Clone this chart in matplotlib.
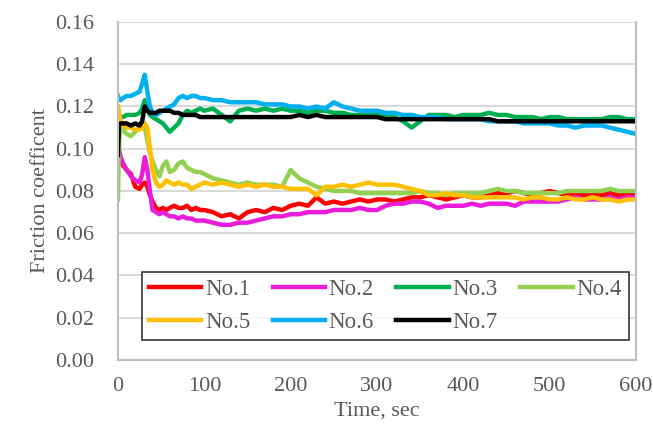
import matplotlib.pyplot as plt

# time axis (sec)
time = [0, 1, 3, 6, 10, 15, 20, 25, 28, 31, 34, 37, 40, 44, 48, 52, 56, 60, 65, 70,
        75, 80, 85, 90, 95, 100,
        110, 120, 130, 140, 150, 160, 170, 180, 190, 200,
        210, 220, 230, 240, 250, 260, 270, 280, 290, 300,
        310, 320, 330, 340, 350, 360, 370, 380, 390, 400,
        410, 420, 430, 440, 450, 460, 470, 480, 490, 500,
        510, 520, 530, 540, 550, 560, 570, 580, 590, 600]

no1 = [0.100, 0.097, 0.094, 0.092, 0.090, 0.088, 0.082, 0.081, 0.083, 0.084, 0.082, 0.078, 0.075,
       0.072, 0.071, 0.072, 0.071, 0.072, 0.073, 0.072, 0.072, 0.073, 0.071, 0.072, 0.071, 0.071,
       0.070, 0.068, 0.069, 0.067, 0.070, 0.071, 0.070, 0.072, 0.071, 0.073,
       0.074, 0.073, 0.077, 0.074, 0.075, 0.074, 0.075, 0.076, 0.075, 0.076,
       0.076, 0.075, 0.076, 0.077, 0.077, 0.078, 0.077, 0.076, 0.077, 0.078,
       0.077, 0.077, 0.078, 0.079, 0.079, 0.080, 0.079, 0.078, 0.079, 0.080,
       0.079, 0.078, 0.079, 0.078, 0.079, 0.078, 0.079, 0.078, 0.079, 0.078]

no2 = [0.104, 0.100, 0.096, 0.093, 0.090, 0.087, 0.085, 0.084, 0.088, 0.096, 0.090, 0.080, 0.071,
       0.070, 0.069, 0.070, 0.069, 0.068, 0.068, 0.067, 0.068, 0.067, 0.067, 0.066, 0.066, 0.066,
       0.065, 0.064, 0.064, 0.065, 0.065, 0.066, 0.067, 0.068, 0.068, 0.069,
       0.069, 0.070, 0.070, 0.070, 0.071, 0.071, 0.071, 0.072, 0.071, 0.071,
       0.073, 0.074, 0.074, 0.075, 0.075, 0.074, 0.072, 0.073, 0.073, 0.073,
       0.074, 0.073, 0.074, 0.074, 0.074, 0.073, 0.075, 0.075, 0.075, 0.075,
       0.075, 0.076, 0.077, 0.076, 0.076, 0.076, 0.077, 0.076, 0.077, 0.077]

no3 = [0.113, 0.114, 0.115, 0.115, 0.116, 0.116, 0.116, 0.117, 0.119, 0.123, 0.119, 0.116, 0.115,
       0.114, 0.113, 0.112, 0.110, 0.108, 0.110, 0.112, 0.116, 0.118, 0.117, 0.118, 0.119, 0.118,
       0.119, 0.116, 0.113, 0.118, 0.119, 0.118, 0.119, 0.118, 0.119, 0.118,
       0.118, 0.117, 0.118, 0.118, 0.117, 0.117, 0.116, 0.116, 0.116, 0.116,
       0.116, 0.115, 0.113, 0.110, 0.113, 0.116, 0.116, 0.116, 0.115, 0.116,
       0.116, 0.116, 0.117, 0.116, 0.116, 0.115, 0.115, 0.115, 0.114, 0.115,
       0.115, 0.114, 0.114, 0.114, 0.114, 0.114, 0.115, 0.115, 0.114, 0.114]

no4 = [0.076, 0.100, 0.112, 0.109, 0.107, 0.106, 0.108, 0.110, 0.112, 0.110, 0.104, 0.098, 0.094,
       0.090, 0.087, 0.092, 0.094, 0.089, 0.090, 0.093, 0.094, 0.091, 0.090, 0.089, 0.089, 0.088,
       0.086, 0.085, 0.084, 0.083, 0.084, 0.083, 0.083, 0.083, 0.082, 0.090,
       0.086, 0.084, 0.082, 0.081, 0.080, 0.080, 0.080, 0.079, 0.079, 0.079,
       0.079, 0.079, 0.079, 0.079, 0.080, 0.079, 0.079, 0.078, 0.079, 0.079,
       0.079, 0.079, 0.080, 0.081, 0.080, 0.080, 0.079, 0.079, 0.079, 0.079,
       0.079, 0.080, 0.080, 0.080, 0.080, 0.080, 0.081, 0.080, 0.080, 0.080]

no5 = [0.120, 0.118, 0.113, 0.111, 0.110, 0.110, 0.109, 0.109, 0.110, 0.112, 0.110, 0.100, 0.090,
       0.084, 0.082, 0.083, 0.085, 0.084, 0.083, 0.084, 0.083, 0.083, 0.081, 0.082, 0.083, 0.084,
       0.083, 0.084, 0.083, 0.082, 0.083, 0.082, 0.083, 0.082, 0.082, 0.081,
       0.081, 0.081, 0.078, 0.082, 0.082, 0.083, 0.082, 0.083, 0.084, 0.083,
       0.083, 0.083, 0.082, 0.081, 0.080, 0.078, 0.078, 0.079, 0.078, 0.078,
       0.077, 0.077, 0.077, 0.077, 0.077, 0.077, 0.076, 0.077, 0.077, 0.076,
       0.076, 0.077, 0.076, 0.076, 0.077, 0.076, 0.076, 0.075, 0.076, 0.076]

no6 = [0.125, 0.124, 0.123, 0.124, 0.125, 0.125, 0.126, 0.127, 0.131, 0.135, 0.127, 0.120, 0.117,
       0.116, 0.117, 0.118, 0.119, 0.120, 0.121, 0.124, 0.125, 0.124, 0.125, 0.125, 0.124, 0.124,
       0.123, 0.123, 0.122, 0.122, 0.122, 0.122, 0.121, 0.121, 0.121, 0.120,
       0.120, 0.119, 0.120, 0.119, 0.122, 0.120, 0.119, 0.118, 0.118, 0.118,
       0.117, 0.117, 0.116, 0.116, 0.115, 0.115, 0.115, 0.114, 0.114, 0.114,
       0.114, 0.114, 0.113, 0.113, 0.113, 0.113, 0.112, 0.112, 0.112, 0.112,
       0.111, 0.111, 0.110, 0.111, 0.111, 0.111, 0.110, 0.109, 0.108, 0.107]

no7 = [0.097, 0.111, 0.112, 0.112, 0.112, 0.111, 0.112, 0.111, 0.113, 0.120, 0.118, 0.117, 0.117,
       0.117, 0.118, 0.118, 0.118, 0.118, 0.117, 0.117, 0.116, 0.116, 0.116, 0.116, 0.115, 0.115,
       0.115, 0.115, 0.115, 0.115, 0.115, 0.115, 0.115, 0.115, 0.115, 0.115,
       0.116, 0.115, 0.116, 0.115, 0.115, 0.115, 0.115, 0.115, 0.115, 0.115,
       0.114, 0.114, 0.114, 0.114, 0.114, 0.114, 0.114, 0.114, 0.114, 0.114,
       0.114, 0.114, 0.114, 0.113, 0.113, 0.113, 0.113, 0.113, 0.113, 0.113,
       0.113, 0.113, 0.113, 0.113, 0.113, 0.113, 0.113, 0.113, 0.113, 0.113]

labels = ["No.1", "No.2", "No.3", "No.4", "No.5", "No.6", "No.7"]
colors = ["#FF0000", "#E91CD9", "#00B050", "#92D050", "#FFC000", "#00B0F0", "#000000"]

x_ticks = [0, 100, 200, 300, 400, 500, 600]
y_ticks = [0.00, 0.02, 0.04, 0.06, 0.08, 0.10, 0.12, 0.14, 0.16]

plt.rcParams['font.family'] = ['Liberation Serif', 'DejaVu Serif']
text_color = "#595959"

fig = plt.figure(figsize=(6.53, 4.28), dpi=100)
ax = fig.add_axes([0.1807, 0.1589, 0.7933, 0.7897])

lines = []
for series, label, color in zip([no1, no2, no3, no4, no5, no6, no7], labels, colors):
    line, = ax.plot(time, series, color=color, lw=3.2, label=label, solid_joinstyle='round')
    lines.append(line)

ax.set_xlim(0, 600)
ax.set_ylim(0, 0.16)
ax.set_xticks(x_ticks)
ax.set_yticks(y_ticks)
ax.set_yticklabels([f"{v:.2f}" for v in y_ticks])
ax.tick_params(length=0, labelsize=16, colors=text_color)
ax.tick_params(axis='y', pad=17)
ax.tick_params(axis='x', pad=12)

ax.grid(axis='y', color='#D9D9D9', lw=1.5)
ax.set_axisbelow(True)
for side in ['left', 'right', 'bottom']:
    ax.spines[side].set_color('#BFBFBF')
    ax.spines[side].set_linewidth(1.5)
ax.spines['top'].set_visible(False)

ax.set_xlabel("Time, sec", fontsize=16, color=text_color, labelpad=4)
ax.set_ylabel("Friction coefficent", fontsize=16, color=text_color, labelpad=4)

# legend is filled column by column, reorder so it reads row by row
order = [0, 4, 1, 5, 2, 6, 3]
leg = ax.legend([lines[i] for i in order], [labels[i] for i in order],
                loc='lower left', bbox_to_anchor=(0.046, 0.059, 0.94, 0.249), mode='expand',
                ncol=4, fontsize=16.5, frameon=True, fancybox=False, handlelength=2.3,
                handletextpad=0.15, borderaxespad=0, labelspacing=0.55, columnspacing=0.5,
                borderpad=0.3)
leg.get_frame().set_edgecolor('black')
leg.get_frame().set_linewidth(1.2)
for text in leg.get_texts():
    text.set_color(text_color)

fig.savefig("out.png", dpi=100)
